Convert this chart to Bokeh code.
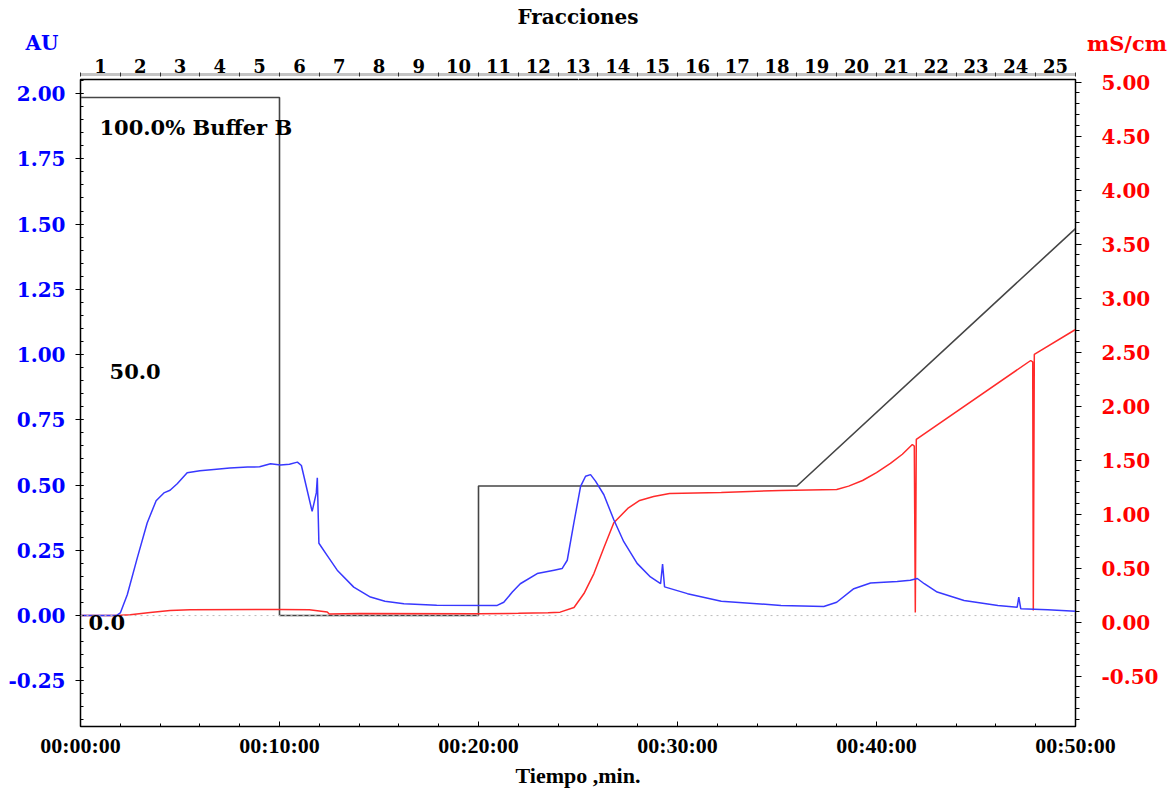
import numpy as np
from bokeh.plotting import figure
from bokeh.models import Range1d, LinearAxis, FixedTicker, Span, Label
from bokeh.embed import file_html
from bokeh.resources import INLINE

# ---------------- data ----------------
time_uv = [0, 1.8, 2.0, 2.35, 2.85, 3.35, 3.8, 4.19, 4.5, 4.86, 5.36, 6.0, 6.7, 7.5,
           8.4, 9.0, 9.55, 10.05, 10.5, 10.9, 11.1, 11.64, 11.85, 11.9, 11.98, 12.4,
           12.9, 13.73, 14.57, 15.3, 16.25, 17.9, 20.94, 21.27, 21.7, 22.1, 22.95,
           23.8, 24.2, 24.46, 24.79, 25.13, 25.38, 25.63, 25.88, 26.3, 26.8, 27.3,
           27.97, 28.64, 29.15, 29.25, 29.35, 30.5, 32.2, 35.2, 37.35, 38.0, 38.86,
           39.7, 41.04, 41.7, 42.05, 42.4, 43.05, 44.4, 46.1, 47.07, 47.15, 47.25,
           48.6, 50.0]
uv_au = [0.0, 0.0, 0.01, 0.08, 0.22, 0.355, 0.44, 0.47, 0.48, 0.505, 0.547, 0.555,
         0.56, 0.565, 0.569, 0.57, 0.582, 0.577, 0.58, 0.588, 0.575, 0.399, 0.47,
         0.528, 0.277, 0.23, 0.174, 0.109, 0.071, 0.055, 0.045, 0.040, 0.039, 0.051,
         0.09, 0.122, 0.161, 0.174, 0.18, 0.212, 0.354, 0.495, 0.534, 0.54, 0.515,
         0.463, 0.367, 0.283, 0.2, 0.148, 0.122, 0.197, 0.11, 0.084, 0.055, 0.039,
         0.035, 0.051, 0.103, 0.125, 0.131, 0.135, 0.142, 0.122, 0.09, 0.058, 0.039,
         0.032, 0.071, 0.026, 0.022, 0.017]

time_cond = [0, 1.8, 2.5, 3.5, 4.5, 5.5, 10.0, 11.5, 12.4, 12.5, 14.0, 20.0, 22.0,
             23.5, 24.1, 24.8, 25.3, 25.8, 26.3, 26.8, 27.5, 28.1, 28.8, 29.6, 32.2,
             35.2, 38.0, 38.6, 39.3, 40.0, 40.7, 41.3, 41.8, 41.9, 41.95, 42.0, 47.75,
             47.85, 47.88, 47.93, 50.0]
cond_ms = [0.062, 0.062, 0.068, 0.09, 0.108, 0.115, 0.117, 0.114, 0.095, 0.075, 0.080,
           0.078, 0.082, 0.088, 0.093, 0.136, 0.265, 0.45, 0.69, 0.92, 1.053, 1.127,
           1.164, 1.192, 1.201, 1.22, 1.229, 1.26, 1.312, 1.385, 1.47, 1.555, 1.645,
           1.63, 0.09, 1.692, 2.423, 2.41, 0.108, 2.479, 2.71]

time_b = [0, 10, 10, 20, 20, 36, 50]
buffer_b = [100, 100, 0, 0, 25, 25, 74.7]

time_ticks = [0, 10, 20, 30, 40, 50]
time_tick_labels = ["00:00:00", "00:10:00", "00:20:00", "00:30:00", "00:40:00", "00:50:00"]
au_ticks = [-0.25, 0.0, 0.25, 0.5, 0.75, 1.0, 1.25, 1.5, 1.75, 2.0]
ms_ticks = [-0.5, 0.0, 0.5, 1.0, 1.5, 2.0, 2.5, 3.0, 3.5, 4.0, 4.5, 5.0]
fractions = [1, 2, 3, 4, 5, 6, 7, 8, 9, 10, 11, 12, 13, 14, 15, 16, 17, 18, 19, 20,
             21, 22, 23, 24, 25]
fraction_minutes = 2.0

# ---------------- styling ----------------
SERIF = "DejaVu Serif"
TSERIF = "Liberation Serif"
BLUE_TXT = "#0000ff"
RED_TXT = "#ff0000"
TOP_PANEL = 130          # room above the frame (unit labels need side-panel space)
TOP_VISIBLE = 79         # frame top on the page

p = figure(frame_width=995, frame_height=647, x_range=Range1d(0, 50),
           y_range=Range1d(-0.425, 2.054), output_backend="svg",
           toolbar_location=None, min_border_left=80, min_border_right=95,
           min_border_top=TOP_PANEL, min_border_bottom=64)
p.margin = (TOP_VISIBLE - TOP_PANEL, 0, 0, 0)
p.extra_y_ranges = {"cond": Range1d(-0.966, 5.025), "pct": Range1d(-21.43, 103.47)}
p.xgrid.visible = False
p.ygrid.visible = False
p.outline_line_color = "black"
p.outline_line_width = 1.5
p.outline_line_alpha = 1.0
p.background_fill_color = "white"
p.border_fill_color = "white"

# bottom axis
xa = p.xaxis[0]
xa.ticker = FixedTicker(ticks=time_ticks, minor_ticks=list(np.arange(0, 50.1, 2.0)))
xa.major_label_overrides = {t: l for t, l in zip(time_ticks, time_tick_labels)}
xa.major_tick_in = 5
xa.major_tick_out = 0
xa.minor_tick_in = 3
xa.minor_tick_out = 0
xa.axis_line_color = "black"
xa.major_label_standoff = 6
xa.major_label_text_font = TSERIF
xa.major_label_text_font_style = "bold"
xa.major_label_text_font_size = "22px"
xa.major_label_text_color = "black"
xa.axis_label = "Tiempo ,min."
xa.axis_label_standoff = 2
xa.axis_label_text_font = TSERIF
xa.axis_label_text_font_style = "bold"
xa.axis_label_text_font_size = "22px"
xa.axis_label_text_color = "black"

# left axis (AU)
ya = p.yaxis[0]
ya.ticker = FixedTicker(ticks=au_ticks, minor_ticks=list(np.arange(-0.40, 2.051, 0.05)))
ya.major_label_overrides = {t: f"{t:.2f}" for t in au_ticks}
ya.major_tick_in = 3
ya.major_tick_out = 5
ya.minor_tick_in = 3
ya.minor_tick_out = 0
ya.axis_line_color = "black"
ya.major_label_standoff = 10
ya.major_label_text_font = SERIF
ya.major_label_text_font_style = "bold"
ya.major_label_text_font_size = "20px"
ya.major_label_text_color = BLUE_TXT

# right axis (mS/cm)
ra = LinearAxis(y_range_name="cond",
                ticker=FixedTicker(ticks=ms_ticks, minor_ticks=list(np.arange(-0.9, 5.01, 0.1))))
ra.major_label_overrides = {t: f"{t:.2f}" for t in ms_ticks}
ra.major_tick_in = 0
ra.major_tick_out = 6
ra.minor_tick_in = 0
ra.minor_tick_out = 4
ra.axis_line_color = "black"
ra.major_label_standoff = 20
ra.major_label_text_font = SERIF
ra.major_label_text_font_style = "bold"
ra.major_label_text_font_size = "20px"
ra.major_label_text_color = RED_TXT
p.add_layout(ra, "right")

# spacer axis between frame and fraction scale (white tick only)
sp = LinearAxis(ticker=FixedTicker(ticks=[25], minor_ticks=[]))
sp.major_label_overrides = {25: ""}
sp.major_tick_out = 5
sp.major_tick_in = 0
sp.major_tick_line_color = "white"
sp.axis_line_color = None
sp.major_label_standoff = 0
sp.major_label_text_font_size = "1px"
p.add_layout(sp, "above")

# fraction axis
centers = [(f - 0.5) * fraction_minutes for f in fractions]
bounds = [f * fraction_minutes for f in [0] + fractions]
fa = LinearAxis(ticker=FixedTicker(ticks=centers, minor_ticks=bounds))
fa.major_label_overrides = {c: str(f) for c, f in zip(centers, fractions)}
fa.major_tick_in = 0
fa.major_tick_out = 0
fa.minor_tick_in = 2
fa.minor_tick_out = 2
fa.minor_tick_line_color = "#333333"
fa.axis_line_color = "#c4c4c4"
fa.axis_line_width = 3
fa.major_label_standoff = 0
fa.major_label_text_font = SERIF
fa.major_label_text_font_style = "bold"
fa.major_label_text_font_size = "18px"
fa.major_label_text_color = "black"
fa.axis_label = "Fracciones"
fa.axis_label_standoff = 27
fa.axis_label_text_font = SERIF
fa.axis_label_text_font_style = "bold"
fa.axis_label_text_font_size = "20px"
fa.axis_label_text_color = "black"
p.add_layout(fa, "above")

# zero baseline
p.add_layout(Span(location=0, dimension="width", line_color="#bbbbbb",
                  line_dash="dotted", line_width=1))

# curves
p.line(time_b, buffer_b, y_range_name="pct", line_color="#454545", line_width=1.6)
p.line(time_cond, cond_ms, y_range_name="cond", line_color="#ff2a2a", line_width=1.5)
p.line(time_uv, uv_au, line_color="#3838ff", line_width=1.5)

# texts
def txt(x, y, s, rng="pct", color="black", align="left", size="21px", place=None):
    lab = Label(x=x, y=y, text=s, y_range_name=rng, text_color=color,
                text_font=SERIF, text_font_style="bold", text_font_size=size,
                text_align=align, text_baseline="middle")
    if place is None:
        p.add_layout(lab)
    else:
        p.add_layout(lab, place)

txt(0.95, 94.2, "100.0% Buffer B")
txt(1.46, 47.1, "50.0")
txt(0.4, -1.35, "0.0")

# unit labels above the axes (placed in the side panel so they are not clipped)
txt(-2.76, 2.192, "AU", rng="default", color=BLUE_TXT, size="20px", place="above")
txt(54.6, 2.192, "mS/cm", rng="default", color=RED_TXT, align="right", place="above")

open("out.html", "w").write(file_html(p, INLINE))
